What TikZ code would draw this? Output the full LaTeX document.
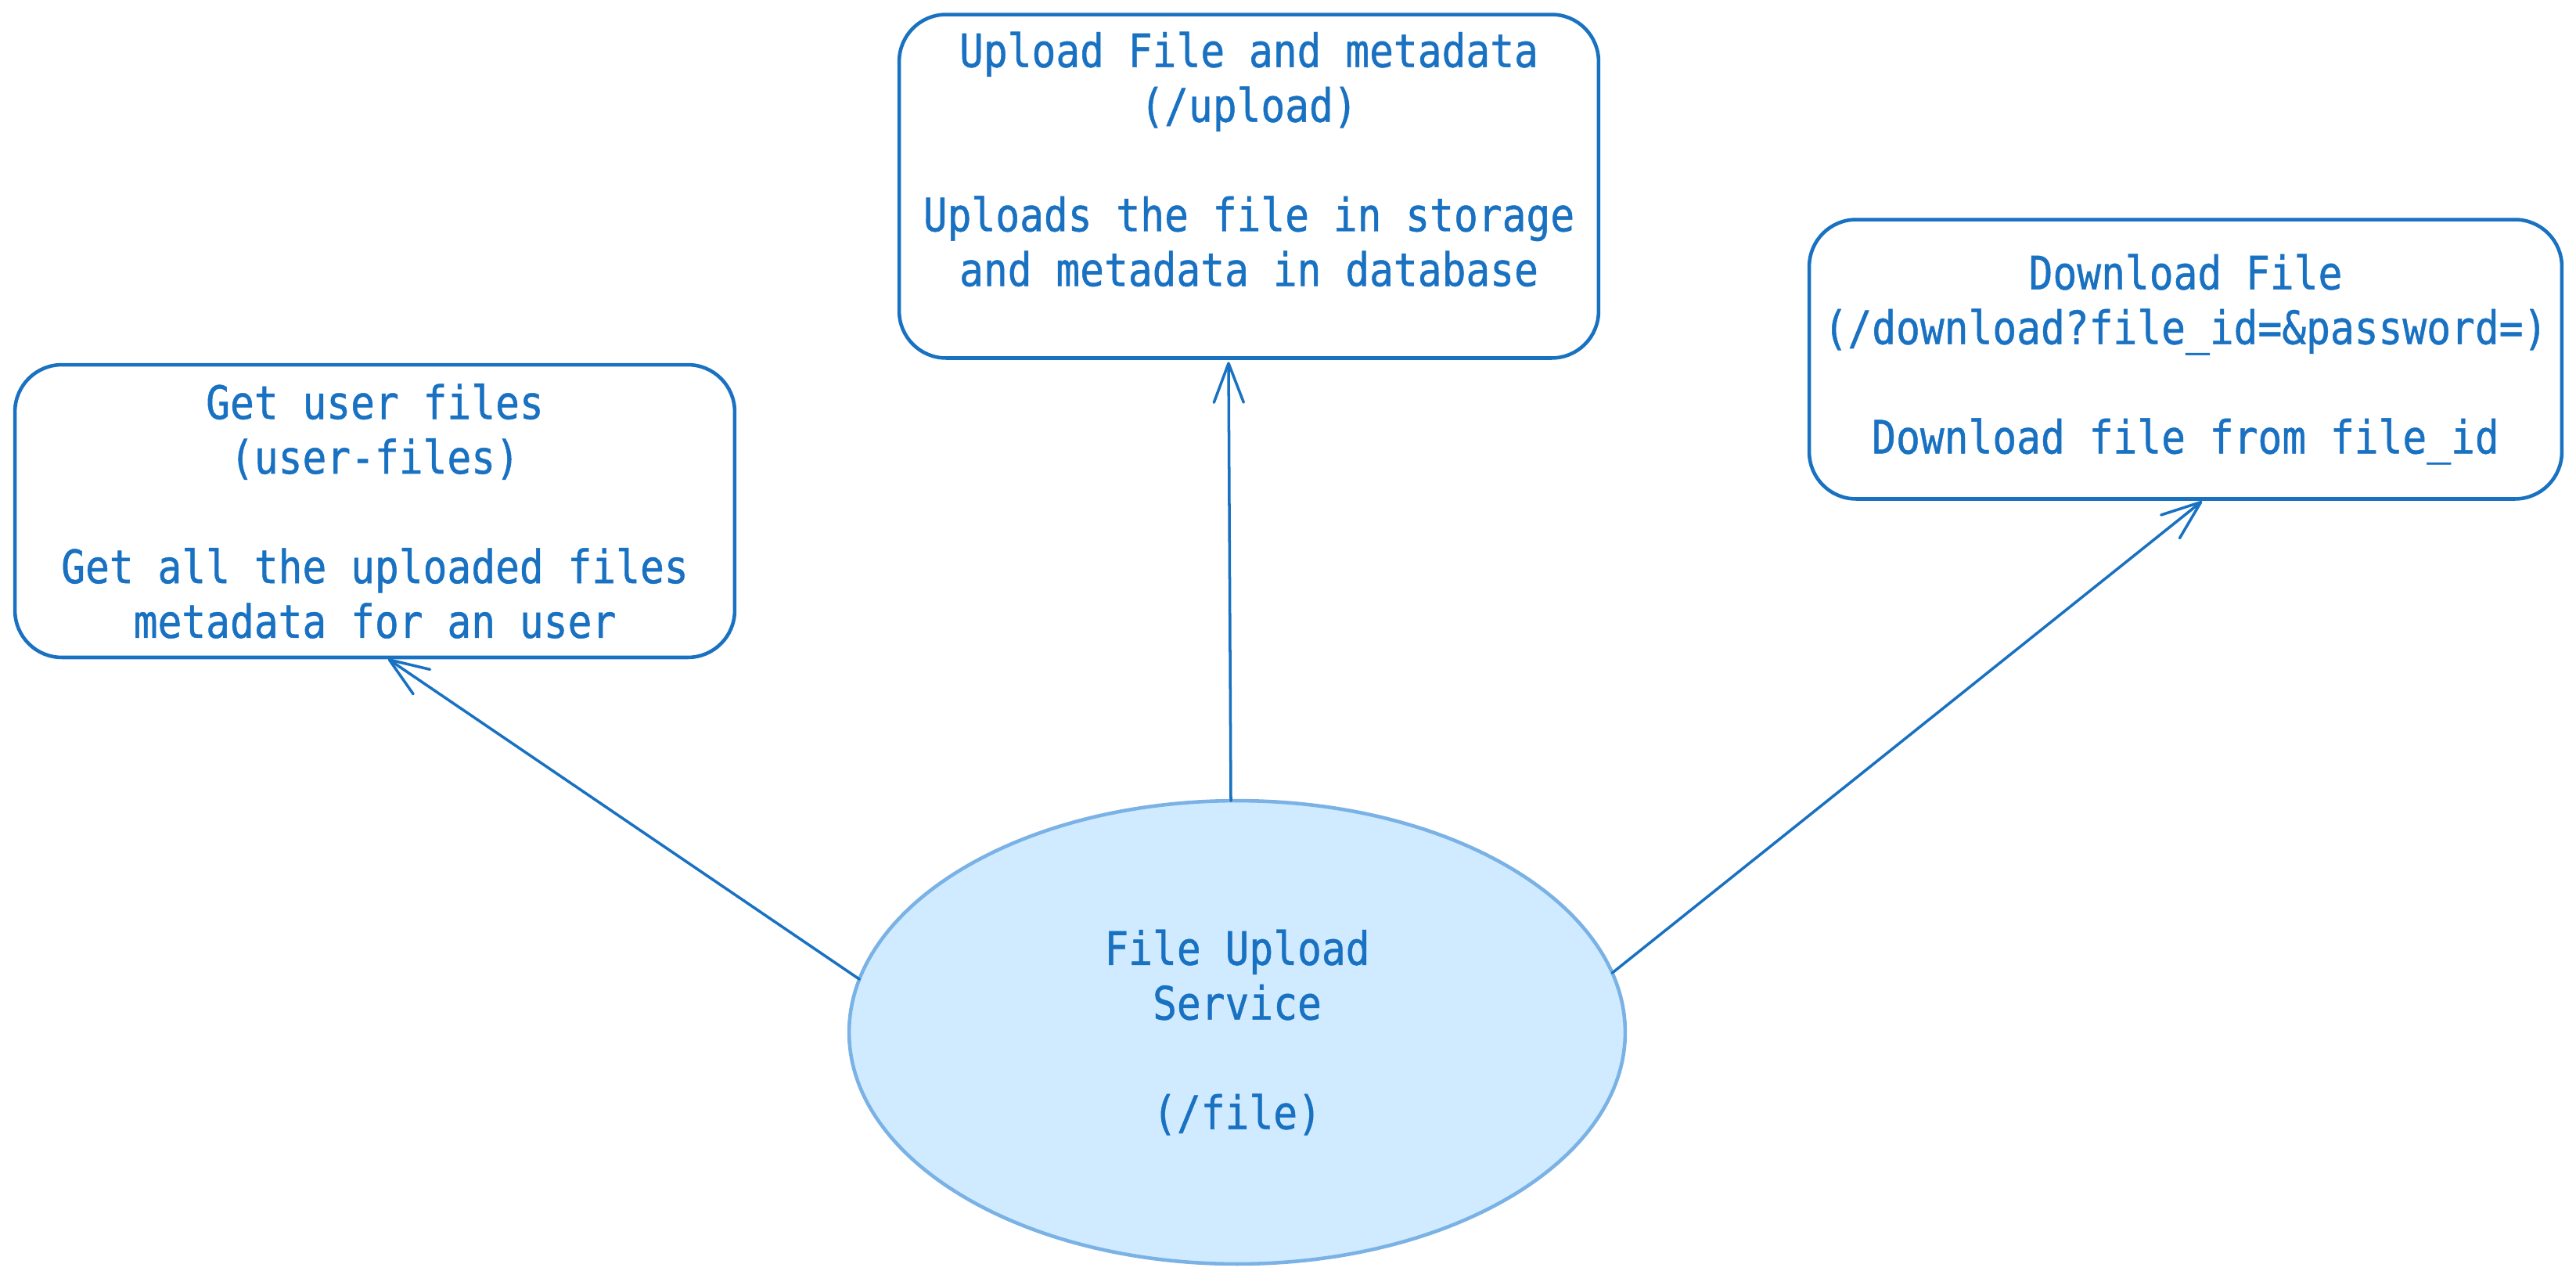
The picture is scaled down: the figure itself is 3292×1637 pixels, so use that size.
\documentclass[tikz,border=0pt]{standalone}
\usepackage{fontspec}
\setmainfont{DejaVu Sans Mono}[FakeStretch=0.87,FakeBold=0.8]
\usetikzlibrary{positioning}
\usetikzlibrary{shapes.geometric}
\usetikzlibrary {arrows.meta}
\definecolor{sketchblue}{HTML}{1971C2}
\definecolor{servicefill}{HTML}{D0EBFF}
\definecolor{serviceline}{HTML}{7AB2E6}
\tikzset{endpoint/.style={rectangle,rounded corners=1.2cm,draw=sketchblue,fill=white,
line width=2.6pt,text=sketchblue,align=center,inner sep=0pt,outer sep=0pt,
font=\fontsize{33.5pt}{39.8pt}\selectfont}}
\tikzset{service/.style={ellipse,draw=serviceline,fill=servicefill,
line width=2.6pt,text=sketchblue,align=center,inner sep=0pt,outer sep=0pt,
minimum width=19.84cm, minimum height=11.84cm,
font=\fontsize{33.5pt}{39.8pt}\selectfont}}
\tikzset{call/.style={draw=sketchblue,line width=2pt,line cap=round,
-{Straight Barb[length=1cm,width=0.76cm,round]}}}

\begin{document}
\begin{tikzpicture}[x=0.02cm,y=-0.02cm]
        \useasboundingbox (0,0) rectangle (3292,1637);

        \node[endpoint, minimum width=18.4cm, minimum height=7.48cm] (userfiles) at (479, 653)
            {Get user files\\(user-files)\\[39.8pt]Get all the uploaded files\\metadata for an user};
        \node[endpoint, minimum width=17.88cm, minimum height=8.78cm] (upload) at (1596, 238)
            {Upload File and metadata\\(/upload)\\[39.8pt]Uploads the file in storage\\and metadata in database\\\mbox{}};
        \node[endpoint, minimum width=19.24cm, minimum height=7.14cm] (download) at (2793, 459)
            {Download File\\(/download?file\_id=\&password=)\\[39.8pt]Download file from file\_id};

        \node[service] (fileservice) at (1581, 1319) {File Upload\\Service\\[39.8pt](/file)};

        \draw[call] (fileservice.172) -- ([xshift=0.34cm,yshift=-0.04cm]userfiles.south);
        \draw[call] ([xshift=-0.16cm]fileservice.north) -- ([xshift=-0.52cm,yshift=-0.1cm]upload.south);
        \draw[call] (fileservice.9) -- ([xshift=0.42cm,yshift=-0.06cm]download.south);

    \end{tikzpicture}
\end{document}
